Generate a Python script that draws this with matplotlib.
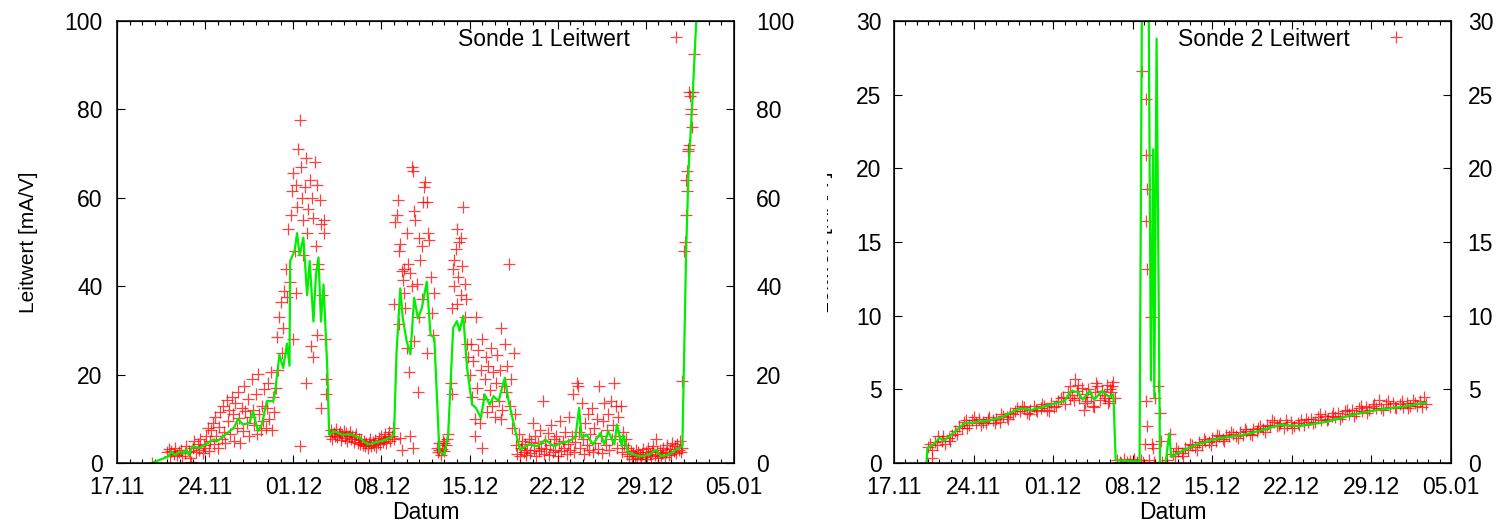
import matplotlib
matplotlib.use("Agg")
import matplotlib.pyplot as plt
from matplotlib.ticker import MultipleLocator, FixedLocator
from matplotlib.transforms import Bbox, TransformedBbox

# x axis: days since 17.11.
tick_days = [0, 7, 14, 21, 28, 35, 42, 49]
tick_labels = ["17.11", "24.11", "01.12", "08.12", "15.12", "22.12", "29.12", "05.01"]

# Sonde 1: smoothed curve (day, value)
s1_line = [(2.75, 0), (4.1, 1.5), (4.3, 2.6), (4.6, 1.8), (5.0, 2.6), (5.3, 2.2), (5.5, 3.0),
           (5.7, 1.8), (6.0, 3.8), (6.5, 3.4), (7.05, 4.2), (7.6, 5.3), (8.0, 5.0), (8.6, 6.4),
           (9.3, 8.0), (9.6, 10.0), (10.0, 8.7), (10.5, 9.0), (10.8, 11.7), (11.2, 7.2), (11.5, 8.7),
           (11.9, 14.0), (12.4, 14.0), (12.55, 16.0), (12.9, 24.5), (13.2, 21.5), (13.5, 27.0),
           (13.7, 22.0), (13.75, 45.7), (14.1, 48.0), (14.3, 52.0), (14.5, 47.0), (14.8, 51.0),
           (15.1, 38.0), (15.3, 45.7), (15.6, 32.0), (15.8, 42.6), (16.0, 46.5), (16.2, 32.0),
           (16.4, 40.4), (16.7, 21.5), (16.85, 6.4), (17.2, 7.2), (17.9, 6.4), (18.5, 6.5),
           (19.3, 5.7), (19.9, 4.2), (20.4, 4.5), (20.9, 4.9), (21.7, 5.7), (22.0, 6.4),
           (22.2, 25.0), (22.5, 39.5), (22.7, 32.7), (23.0, 27.6), (23.3, 24.6), (23.6, 37.4),
           (23.9, 32.7), (24.2, 35.0), (24.6, 41.0), (24.9, 29.0), (25.2, 28.3), (25.6, 2.6),
           (26.0, 1.9), (26.3, 6.4), (26.7, 30.6), (27.0, 32.1), (27.2, 29.9), (27.5, 33.3),
           (27.8, 21.5), (28.2, 13.2), (28.5, 12.5), (28.9, 10.2), (29.2, 15.5), (29.6, 13.2),
           (29.9, 15.1), (30.3, 14.0), (30.8, 19.3), (31.1, 14.0), (31.5, 9.0), (32.0, 3.0),
           (32.7, 4.2), (33.4, 3.8), (34.0, 5.3), (34.7, 3.8), (35.3, 4.5), (35.8, 4.9),
           (36.4, 5.7), (36.7, 12.5), (36.9, 5.7), (37.3, 6.4), (37.8, 4.2), (38.4, 6.8),
           (38.7, 4.2), (39.0, 7.2), (39.5, 4.2), (39.7, 8.7), (40.1, 3.8), (40.2, 6.4),
           (40.6, 2.3), (41.6, 1.5), (42.3, 1.9), (42.8, 3.0), (43.2, 1.5), (43.8, 1.9),
           (44.4, 3.0), (44.9, 3.8), (45.2, 48.0), (45.4, 67.0), (45.7, 82.0), (46.0, 100.0),
           (46.1, 106.0)]

# Sonde 1: raw measurements
s1_points = [
    (2.8, 0.0), (4.0, 2.5), (4.1, 3.2), (4.2, 1.5), (4.3, 2.8), (4.5, 2.0), (4.6, 3.5), (4.8, 1.8),
    (4.9, 2.6), (5.1, 3.0), (5.2, 1.6), (5.4, 2.2), (5.5, 3.8), (5.7, 2.7), (5.8, 1.2), (5.9, 0.3),
    (6.0, 3.5), (6.1, 5.0), (6.3, 2.5), (6.4, 4.2), (6.5, 3.0), (6.6, 5.5), (6.8, 2.2), (6.9, 4.0),
    (7.0, 3.3), (7.1, 6.0), (7.2, 8.0), (7.3, 2.8),
    (7.4, 5.0), (7.5, 7.5), (7.6, 9.0), (7.7, 4.2), (7.8, 10.5), (7.9, 6.0), (8.0, 3.5), (8.1, 8.2),
    (8.2, 11.5), (8.3, 5.5), (8.4, 13.0), (8.5, 7.0), (8.6, 4.5), (8.7, 14.2), (8.8, 9.5),
    (8.9, 12.0), (9.0, 6.5), (9.1, 15.0), (9.2, 11.0), (9.3, 5.0), (9.4, 13.5), (9.5, 8.0),
    (9.6, 16.0), (9.7, 10.2), (9.8, 4.5), (9.9, 12.5), (10.0, 7.2), (10.1, 17.5), (10.2, 11.8),
    (10.3, 9.0), (10.4, 14.5), (10.5, 6.0), (10.6, 10.5), (10.7, 19.0), (10.8, 12.0), (10.9, 8.5),
    (11.0, 15.5), (11.1, 6.5), (11.2, 20.2), (11.3, 11.0), (11.4, 7.5), (11.5, 13.0), (11.6, 9.5),
    (11.7, 16.8), (11.8, 8.0), (11.9, 12.5), (12.0, 18.0), (12.1, 10.0), (12.2, 20.5), (12.3, 7.5),
    (12.4, 15.0), (12.5, 11.5),
    (12.6, 17.0), (12.7, 28.5), (12.8, 21.0), (12.9, 33.0), (13.0, 36.5), (13.1, 25.0), (13.2, 30.5),
    (13.3, 39.0), (13.4, 44.0), (13.5, 37.5), (13.6, 53.0), (13.7, 41.0),
    (13.8, 56.0), (13.9, 61.5), (14.0, 65.5), (14.1, 48.0), (14.2, 63.0), (14.3, 58.0), (14.4, 71.0),
    (14.5, 77.5), (14.6, 67.0), (14.7, 60.0), (14.8, 55.0), (14.9, 62.5), (15.0, 69.0), (15.1, 52.0),
    (15.2, 57.5), (15.3, 64.0), (15.4, 26.5), (15.5, 60.0), (15.6, 55.5), (15.7, 68.0), (15.8, 49.0),
    (15.9, 63.0), (16.0, 45.0), (16.1, 59.5), (16.2, 54.0), (16.3, 38.0), (16.4, 52.0), (16.5, 28.0),
    (16.6, 19.0), (14.2, 38.5), (14.0, 28.0), (15.0, 18.0), (14.5, 3.8), (15.6, 24.0), (16.2, 12.5),
    (16.6, 15.5), (15.9, 29.0), (14.8, 47.0), (16.0, 44.0), (16.4, 55.0),
    (16.9, 6.2), (17.0, 7.5), (17.1, 5.5), (17.2, 6.8), (17.3, 6.0), (17.4, 7.8), (17.5, 5.8),
    (17.6, 6.5), (17.7, 7.0), (17.8, 5.2), (17.9, 6.3), (18.0, 7.2), (18.1, 5.6), (18.2, 6.8),
    (18.3, 5.0), (18.4, 6.0), (18.5, 7.0), (18.6, 5.4), (18.7, 6.2), (18.8, 4.8), (18.9, 5.8),
    (19.0, 6.5), (19.1, 4.6), (19.2, 5.5), (19.3, 4.2), (19.4, 5.2), (19.5, 4.0), (19.6, 5.0),
    (19.7, 3.8), (19.8, 4.6), (19.9, 3.5), (20.0, 4.5), (20.1, 5.5), (20.2, 3.8), (20.3, 4.8),
    (20.4, 4.0), (20.5, 5.2), (20.6, 3.6), (20.7, 4.6), (20.8, 5.6), (20.9, 4.2), (21.0, 6.0),
    (21.1, 4.8), (21.2, 5.4), (21.3, 6.5), (21.4, 4.6), (21.5, 5.8), (21.6, 7.0), (21.7, 5.0),
    (21.8, 6.2), (21.9, 8.0), (22.0, 5.5),
    (22.0, 36.0), (22.1, 54.5), (22.2, 56.0), (22.3, 59.5), (22.4, 48.0), (22.5, 49.5), (22.6, 43.5),
    (22.7, 41.5), (22.8, 38.5), (22.9, 35.0), (23.0, 52.0), (23.1, 45.0), (23.2, 20.5), (23.3, 43.0),
    (23.4, 67.0), (23.5, 66.0), (23.6, 57.0), (23.7, 55.0), (23.8, 40.5), (23.9, 16.0), (24.0, 51.0),
    (24.1, 46.0), (24.2, 37.0), (24.3, 59.0), (24.4, 62.5), (24.5, 63.5), (24.6, 59.0), (24.7, 52.0),
    (24.8, 50.5), (24.9, 42.0), (25.0, 34.0), (25.1, 29.0), (25.2, 38.5), (23.0, 26.0), (23.6, 27.5),
    (22.4, 31.5), (24.6, 25.0), (24.0, 33.0), (22.8, 44.0), (23.4, 40.0), (24.2, 49.0), (22.5, 5.7),
    (22.6, 3.0), (23.3, 6.0), (23.5, 3.5),
    (25.4, 3.5), (25.5, 2.5), (25.6, 4.5), (25.7, 1.8), (25.8, 3.2), (25.9, 5.0), (26.0, 2.8),
    (26.1, 4.0), (26.2, 5.5), (26.3, 6.5), (25.6, 3.0), (26.0, 4.6),
    (26.5, 18.0), (26.6, 35.0), (26.7, 44.0), (26.8, 40.0), (26.9, 48.5), (27.0, 53.0), (27.1, 42.0),
    (27.2, 50.0), (27.3, 38.0), (27.4, 44.5), (27.5, 58.0), (27.6, 40.5), (27.7, 37.0), (27.8, 27.0),
    (27.3, 51.0), (26.8, 46.0), (27.0, 36.0), (27.6, 33.0), (26.6, 15.5), (27.9, 24.0),
    (28.0, 20.0), (28.1, 27.0), (28.2, 15.0), (28.3, 23.0), (28.4, 10.0), (28.5, 33.0), (28.6, 17.0),
    (28.7, 25.5), (28.8, 9.0), (28.9, 21.0), (29.0, 28.0), (29.1, 14.5), (29.2, 19.0), (29.3, 24.0),
    (29.4, 11.5), (29.5, 22.0), (29.6, 16.5), (29.7, 26.0), (29.8, 13.0), (29.9, 20.5), (30.0, 10.5),
    (30.1, 18.0), (30.2, 24.5), (30.3, 14.0), (30.4, 21.0), (30.5, 30.5), (30.6, 12.0), (30.7, 17.5),
    (30.8, 27.0), (30.9, 16.0), (31.0, 22.0), (31.1, 45.0), (31.2, 13.0), (31.3, 19.0), (31.4, 8.0),
    (31.5, 25.0), (31.6, 11.0), (28.4, 6.0), (29.0, 3.5), (30.5, 10.0),
    (31.7, 4.0), (31.8, 2.0), (31.9, 6.5), (32.0, 1.5), (32.1, 3.5), (32.2, 5.0), (32.3, 2.5),
    (32.4, 4.2), (32.5, 1.8), (32.6, 3.0), (32.7, 5.5), (32.8, 2.2), (32.9, 4.8), (33.0, 9.0),
    (33.1, 3.0), (33.2, 6.0), (33.3, 1.5), (33.4, 4.5), (33.5, 2.8), (33.6, 7.5), (33.7, 3.5),
    (33.8, 14.0), (33.9, 2.0), (34.0, 5.0), (34.1, 3.2), (34.2, 6.8), (34.3, 1.8), (34.4, 4.0),
    (34.5, 8.5), (34.6, 2.5), (34.7, 5.5), (34.8, 3.0), (34.9, 6.2), (35.0, 1.5), (35.1, 4.5),
    (35.2, 9.5), (35.3, 2.8), (35.4, 5.0), (35.5, 3.5), (35.6, 7.0), (35.7, 2.0), (35.8, 4.2),
    (35.9, 10.5), (36.0, 3.0), (36.1, 6.0), (36.2, 15.5), (36.3, 2.5), (36.4, 4.8), (36.5, 18.0),
    (36.6, 17.5), (36.7, 7.0), (36.8, 3.5), (36.9, 13.5), (37.0, 5.5), (37.1, 2.0), (37.2, 9.0),
    (37.3, 4.0), (37.4, 11.0), (37.5, 3.0), (37.6, 6.5), (37.7, 12.5), (37.8, 2.5), (37.9, 8.0),
    (38.0, 4.5), (38.1, 10.0), (38.2, 3.2), (38.3, 17.5), (38.4, 6.0), (38.5, 2.2), (38.6, 9.5),
    (38.7, 13.5), (38.8, 4.0), (38.9, 7.5), (39.0, 11.0), (39.1, 3.0), (39.2, 14.0), (39.3, 5.5),
    (39.4, 8.5), (39.5, 18.0), (39.6, 13.0), (39.7, 3.5), (39.8, 10.5), (39.9, 6.0), (40.0, 13.0),
    (40.1, 2.5), (40.2, 7.0), (40.3, 4.0), (40.4, 5.5), (40.5, 2.0), (40.6, 3.5),
    (40.7, 1.5), (40.8, 2.8), (40.9, 1.0), (41.0, 2.2), (41.1, 1.6), (41.2, 3.0), (41.3, 1.2),
    (41.4, 2.5), (41.5, 1.8), (41.6, 0.8), (41.7, 2.0), (41.8, 3.2), (41.9, 1.4), (42.0, 2.6),
    (42.1, 1.0), (42.2, 3.5), (42.3, 2.0), (42.4, 1.5), (42.5, 2.8), (42.6, 3.8), (42.7, 1.8),
    (42.8, 5.5), (42.9, 2.4), (43.0, 1.2), (43.1, 3.0), (43.2, 1.6), (43.3, 2.2), (43.4, 3.5),
    (43.5, 1.4), (43.6, 2.6), (43.7, 4.0), (43.8, 1.8), (43.9, 3.2), (44.0, 2.0), (44.1, 4.5),
    (44.2, 2.8), (44.3, 3.8), (44.4, 2.2), (44.5, 4.2), (44.6, 3.0), (44.7, 5.0), (44.8, 2.5),
    (44.9, 3.5),
    (44.9, 18.5), (45.05, 48.0), (45.1, 50.0), (45.15, 56.0), (45.2, 64.0), (45.25, 61.5),
    (45.3, 66.0), (45.35, 71.0), (45.4, 72.0), (45.45, 84.0), (45.5, 83.0), (45.55, 80.0),
    (45.6, 79.0), (45.7, 76.0), (45.75, 84.0), (45.8, 92.5), (45.35, 70.5),
]

# Sonde 2: smoothed curve
s2_line = [(2.86, 0.0), (2.94, 1.0), (3.5, 1.3), (4.0, 1.7), (4.4, 1.5), (5.0, 1.9), (5.6, 2.3),
           (6.2, 2.7), (6.6, 2.7), (7.5, 2.8), (8.5, 2.9), (9.5, 3.1), (10.2, 3.4), (11.1, 3.7),
           (12.1, 3.6), (13.0, 3.8), (14.0, 4.0), (15.0, 4.2), (15.6, 4.9), (16.2, 4.8), (16.6, 4.3),
           (17.2, 4.9), (17.6, 4.3), (18.3, 4.9), (18.9, 4.5), (19.3, 4.65), (19.5, 0.2), (20.5, 0.15),
           (21.6, 0.1), (21.9, 45.0), (22.3, 45.0), (22.6, 5.6), (22.8, 21.3), (22.9, 4.4),
           (23.1, 28.8), (23.4, 0.0), (23.9, 0.0), (24.2, 2.0), (24.4, 0.4), (25.0, 0.7), (26.6, 1.25),
           (28.7, 1.7), (30.7, 1.9), (32.7, 2.3), (34.0, 2.6), (35.6, 2.5), (38.1, 2.8), (40.5, 3.3),
           (42.5, 3.6), (45.0, 3.85), (46.8, 4.1)]

# Sonde 2: raw measurements
s2_points = [
    (2.86, 0.0), (3.0, 1.1), (3.3, 0.9), (3.3, 0.35), (3.6, 1.4), (3.9, 1.8), (4.2, 1.5), (4.5, 1.3),
    (4.8, 1.7), (5.1, 1.9), (5.4, 2.2), (5.7, 2.5), (6.0, 2.4), (6.3, 2.9), (6.6, 2.6), (6.9, 2.9),
    (7.2, 2.7), (7.5, 3.0), (7.8, 2.8), (8.1, 2.7), (8.4, 3.1), (8.7, 2.9), (9.0, 3.0), (9.3, 2.8),
    (9.6, 3.2), (9.9, 3.1), (10.2, 3.4), (10.5, 3.3), (10.8, 3.7), (11.1, 3.5), (11.4, 3.8),
    (11.7, 3.4), (12.0, 3.6), (12.3, 3.9), (12.6, 3.5), (12.9, 3.7), (13.2, 3.9), (13.5, 3.6),
    (13.8, 4.1), (14.1, 3.8), (14.4, 4.2), (14.7, 4.4), (15.0, 4.0),
    (3.15, 1.3), (3.75, 1.2), (4.35, 1.8), (4.95, 1.5), (5.55, 2.0), (6.15, 2.8), (6.45, 2.4),
    (7.05, 3.1), (7.65, 2.6), (8.25, 3.0), (8.85, 2.7), (9.45, 3.3), (10.05, 3.0), (10.65, 3.5),
    (11.25, 3.9), (11.85, 3.3), (12.45, 3.6), (13.05, 4.0), (13.65, 3.5), (14.25, 3.9),
    (14.85, 4.5), (15.45, 4.4),
    (15.3, 4.8), (15.5, 5.2), (15.7, 4.6), (15.9, 5.7), (16.1, 4.9), (16.3, 4.4), (16.5, 5.1),
    (16.7, 3.6), (16.9, 4.7), (17.1, 5.0), (17.3, 4.5), (17.5, 3.9), (17.7, 4.8), (17.9, 5.2),
    (18.1, 4.3), (18.3, 4.9), (18.5, 4.6), (18.7, 5.3), (18.9, 4.2), (19.1, 4.8), (19.3, 5.5),
    (19.4, 4.4), (15.8, 4.3), (16.8, 4.1), (17.6, 3.8), (18.8, 4.1), (19.2, 5.2),
    (16.2, 5.3), (17.0, 4.2), (17.8, 5.4), (18.6, 4.4), (19.0, 5.0),
    (19.6, 0.2), (19.9, 0.1), (20.2, 0.25), (20.5, 0.05), (20.8, 0.15), (21.1, 0.3), (21.4, 0.1),
    (21.7, 0.2), (20.0, 0.0),
    (21.8, 26.6), (22.2, 24.7), (22.2, 20.9), (22.3, 18.6), (22.2, 16.4), (22.3, 13.2), (22.6, 9.9),
    (22.2, 4.2), (22.3, 2.5), (22.1, 1.3), (23.2, 5.2), (22.95, 4.4), (23.4, 3.4), (23.5, 1.5),
    (22.7, 1.3), (22.8, 1.0), (21.9, 0.1), (22.4, 0.2), (22.9, 0.1), (23.6, 0.1), (23.8, 0.0),
    (24.0, 0.2), (24.3, 2.0), (24.5, 0.6),
    (24.7, 0.5), (25.0, 0.8), (25.3, 0.7), (25.6, 1.0), (25.9, 0.9), (26.2, 1.2), (26.5, 1.1),
    (26.8, 1.4), (27.1, 1.2), (27.4, 1.5), (27.7, 1.4), (28.0, 1.7), (28.3, 1.5), (28.6, 1.8),
    (28.9, 1.6), (29.2, 1.9), (29.5, 1.8), (29.8, 2.0), (30.1, 1.8), (30.4, 2.1), (30.7, 1.9),
    (31.0, 2.2), (31.3, 2.0), (31.6, 2.3), (31.9, 2.2), (32.2, 2.5), (32.5, 2.3), (32.8, 2.6),
    (33.1, 2.5), (33.4, 2.8), (33.7, 2.5), (34.0, 2.7), (34.3, 2.4), (34.6, 2.6), (34.9, 2.8),
    (35.2, 2.5), (35.5, 2.7), (35.8, 2.9), (36.1, 2.6), (36.4, 2.8), (36.7, 3.0), (37.0, 2.8),
    (37.3, 3.1), (37.6, 2.9), (37.9, 3.2), (38.2, 3.0), (38.5, 3.2), (38.8, 3.1), (39.1, 3.4),
    (39.4, 3.2), (39.7, 3.5), (40.0, 3.3), (40.3, 3.6), (40.6, 3.4), (40.9, 3.7), (41.2, 3.5),
    (41.5, 3.8), (41.8, 3.6), (42.1, 3.9), (42.4, 3.7), (42.7, 4.3), (43.0, 3.6), (43.3, 4.0),
    (43.6, 3.8), (43.9, 4.1), (44.2, 3.7), (44.5, 4.0), (44.8, 3.8), (45.1, 4.1), (45.4, 3.9),
    (45.7, 4.3), (46.0, 3.9), (46.3, 4.2), (46.6, 4.5), (46.8, 4.0),
    (24.85, 1.0), (25.45, 0.5), (26.05, 1.3), (26.65, 0.9), (27.25, 1.6), (27.85, 1.2),
    (28.45, 1.9), (29.05, 1.5), (29.65, 2.1), (30.25, 1.7), (30.85, 2.3), (31.45, 1.9),
    (32.05, 2.4), (32.65, 2.1), (33.25, 2.9), (33.85, 2.6), (34.45, 2.9), (35.05, 2.4),
    (35.65, 2.6), (36.25, 3.0), (36.85, 2.7), (37.45, 3.3), (38.05, 2.9), (38.65, 3.4),
    (39.25, 3.0), (39.85, 3.6), (40.45, 3.2), (41.05, 3.9), (41.65, 3.4), (42.25, 4.0),
    (42.85, 3.7), (43.45, 4.2), (44.05, 3.8), (44.65, 4.2), (45.25, 3.7), (45.85, 4.1),
    (46.45, 3.8),
]

FONT = "Liberation Sans"
FS = 16.5
FS_YLABEL = 15
RED = "#ff0000"
GREEN = "#00ee00"

plt.rcParams["font.family"] = [FONT, "DejaVu Sans"]
plt.rcParams["font.size"] = FS

fig = plt.figure(figsize=(15.06, 5.24), dpi=100)


def draw_panel(rect, line, points, ymax, ystep, label, lpad, rpad):
    ax = fig.add_axes(rect)
    px, py = zip(*points)
    lx, ly = zip(*line)
    scat, = ax.plot(px, py, linestyle="none", marker="+", ms=8, mew=0.9,
                    color=RED, alpha=0.75, label=label)
    ax.plot(lx, ly, color=GREEN, lw=1.6)

    ax.set_xlim(0, 49)
    ax.set_ylim(0, ymax)
    ax.xaxis.set_major_locator(FixedLocator(tick_days))
    ax.set_xticklabels(tick_labels)
    ax.xaxis.set_minor_locator(MultipleLocator(1))
    ax.yaxis.set_major_locator(MultipleLocator(ystep))
    ax.tick_params(which="both", direction="in", top=True, right=False, width=0.8)
    ax.tick_params(which="major", length=6)
    ax.tick_params(which="minor", length=3)
    ax.tick_params(axis="x", pad=9, labelsize=FS)
    ax.tick_params(axis="y", pad=lpad, labelsize=FS)
    for s in ax.spines.values():
        s.set_linewidth(1.1)
    ax.set_xlabel("Datum", fontsize=FS, labelpad=1.5)

    ax2 = ax.twinx()
    ax2.set_ylim(0, ymax)
    ax2.yaxis.set_major_locator(MultipleLocator(ystep))
    ax2.tick_params(axis="y", direction="in", length=6, width=0.8, pad=rpad, labelsize=FS)

    ax.legend(handles=[scat], loc="upper right", bbox_to_anchor=(0.958, 1.006),
              borderaxespad=0, frameon=False, markerfirst=False, numpoints=1,
              handletextpad=1.0, fontsize=FS)
    return ax


ax1 = draw_panel([117 / 1506, 61 / 524, 617 / 1506, 442 / 524], s1_line, s1_points,
                 100, 20, "Sonde 1 Leitwert", 10.5, 16)
ax1.set_ylabel("Leitwert [mA/V]", fontsize=FS_YLABEL)
ax1.yaxis.set_label_coords(-0.128, 0.5)

ax2 = draw_panel([894 / 1506, 61 / 524, 557 / 1506, 442 / 524], s2_line, s2_points,
                 30, 5, "Sonde 2 Leitwert", 9, 12)

# y label of the second panel is mostly hidden behind the first panel's area
hidden = fig.text(824 / 1506, 282 / 524, "Leitwert [mA/V]", rotation=90,
                  ha="center", va="center", fontsize=FS_YLABEL)
hidden.set_clip_box(TransformedBbox(Bbox([[827 / 1506, 0], [870 / 1506, 1]]), fig.transFigure))
hidden.set_clip_on(True)

fig.savefig("out.png", dpi=100)
